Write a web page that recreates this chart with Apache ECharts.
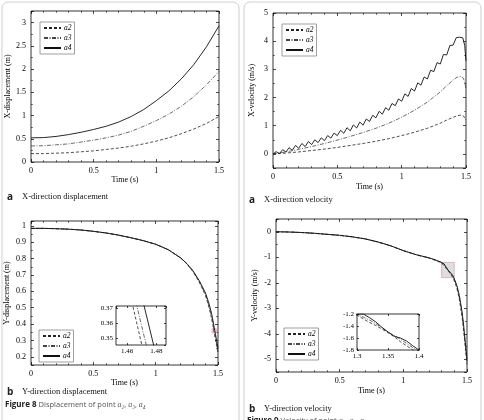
<!DOCTYPE html>
<html>
<head>
<meta charset="utf-8">
<script src="https://cdn.jsdelivr.net/npm/echarts@6/dist/echarts.min.js"></script>
<style>html,body{margin:0;padding:0;background:#fff}#chart{width:484px;height:420px}</style>
</head>
<body>
<div id="chart"></div>
<script>
// Fig 8a - X displacement
const tXDisp = [0, 0.1, 0.2, 0.3, 0.4, 0.5, 0.6, 0.7, 0.8, 0.9, 1.0, 1.1, 1.2, 1.3, 1.4, 1.5]
const xDispA2 = [0.18, 0.18, 0.19, 0.2, 0.22, 0.24, 0.27, 0.3, 0.34, 0.39, 0.45, 0.52, 0.61, 0.71, 0.83, 0.98]
const xDispA3 = [0.345, 0.35, 0.37, 0.39, 0.43, 0.47, 0.52, 0.58, 0.66, 0.77, 0.89, 1.03, 1.2, 1.41, 1.66, 1.95]
const xDispA4 = [0.52, 0.525, 0.55, 0.59, 0.64, 0.7, 0.77, 0.86, 0.98, 1.13, 1.32, 1.53, 1.79, 2.1, 2.48, 2.93]

// Fig 9a - X velocity (a4 sampled finer because of the ripple)
const tXVel = [0, 0.1, 0.2, 0.3, 0.4, 0.5, 0.6, 0.7, 0.8, 0.9, 1.0, 1.1, 1.2, 1.3, 1.35, 1.4, 1.43, 1.46, 1.48, 1.49, 1.5]
const xVelA2 = [0, 0.03, 0.07, 0.12, 0.17, 0.23, 0.3, 0.37, 0.45, 0.54, 0.65, 0.77, 0.91, 1.09, 1.2, 1.3, 1.35, 1.38, 1.35, 1.3, 1.2]
const xVelA3 = [0, 0.07, 0.16, 0.26, 0.37, 0.49, 0.62, 0.76, 0.91, 1.09, 1.3, 1.55, 1.84, 2.2, 2.42, 2.62, 2.72, 2.75, 2.68, 2.55, 2.3]
const tXVelA4 = [0, 0.025, 0.05, 0.075, 0.1, 0.125, 0.15, 0.175, 0.2, 0.225, 0.25, 0.275, 0.3, 0.325, 0.35, 0.375,
  0.4, 0.425, 0.45, 0.475, 0.5, 0.525, 0.55, 0.575, 0.6, 0.625, 0.65, 0.675, 0.7, 0.725, 0.75, 0.775,
  0.8, 0.825, 0.85, 0.875, 0.9, 0.925, 0.95, 0.975, 1.0, 1.025, 1.05, 1.075, 1.1, 1.125, 1.15, 1.175,
  1.2, 1.225, 1.25, 1.275, 1.3, 1.325, 1.35, 1.375, 1.4, 1.425, 1.45, 1.475, 1.49, 1.5]
const xVelA4 = [0, 0.08, 0.01, 0.15, 0.07, 0.22, 0.13, 0.3, 0.2, 0.37, 0.26, 0.44, 0.33, 0.5, 0.4, 0.57,
  0.47, 0.65, 0.56, 0.74, 0.65, 0.84, 0.73, 0.93, 0.82, 1.03, 0.92, 1.13, 1.02, 1.24, 1.15, 1.37,
  1.28, 1.51, 1.41, 1.64, 1.55, 1.79, 1.71, 1.95, 1.87, 2.13, 2.04, 2.32, 2.23, 2.52, 2.44, 2.73,
  2.66, 2.97, 2.92, 3.24, 3.19, 3.53, 3.51, 3.85, 3.86, 4.13, 4.14, 4.12, 3.85, 3.3]

// Fig 8b - Y displacement
const tYDisp = [0, 0.1, 0.2, 0.3, 0.4, 0.5, 0.6, 0.7, 0.8, 0.9, 1.0, 1.1, 1.2, 1.25, 1.3, 1.35, 1.4, 1.43, 1.45, 1.47, 1.48, 1.49, 1.5]
const yDispA2 = [0.985, 0.985, 0.983, 0.98, 0.975, 0.967, 0.957, 0.944, 0.928, 0.91, 0.888, 0.855, 0.804, 0.768, 0.72, 0.655, 0.575, 0.495, 0.43, 0.346, 0.306, 0.263, 0.22]
const yDispA3 = [0.985, 0.985, 0.983, 0.98, 0.975, 0.967, 0.957, 0.944, 0.928, 0.91, 0.888, 0.855, 0.805, 0.769, 0.723, 0.66, 0.58, 0.505, 0.44, 0.358, 0.318, 0.275, 0.23]
const yDispA4 = [0.985, 0.985, 0.983, 0.98, 0.975, 0.967, 0.957, 0.944, 0.928, 0.91, 0.888, 0.855, 0.805, 0.77, 0.725, 0.665, 0.59, 0.52, 0.46, 0.378, 0.338, 0.295, 0.25]

// Fig 9b - Y velocity
const tYVel = [0, 0.1, 0.2, 0.3, 0.4, 0.5, 0.6, 0.7, 0.8, 0.9, 1.0, 1.1, 1.2, 1.25,
  1.3, 1.31, 1.32, 1.33, 1.34, 1.35, 1.36, 1.37, 1.38, 1.39, 1.4, 1.42, 1.44, 1.46, 1.47, 1.48, 1.49, 1.5]
const yVelA2 = [0, -0.01, -0.03, -0.06, -0.1, -0.14, -0.2, -0.28, -0.4, -0.55, -0.74, -0.9, -1.03, -1.12,
  -1.22, -1.28, -1.34, -1.39, -1.45, -1.51, -1.58, -1.66, -1.73, -1.8, -1.86, -2.2, -2.65, -3.3, -3.7, -4.2, -4.7, -5.2]
const yVelA3 = [0, -0.01, -0.03, -0.06, -0.1, -0.14, -0.2, -0.28, -0.4, -0.55, -0.74, -0.9, -1.02, -1.11,
  -1.21, -1.25, -1.3, -1.36, -1.43, -1.5, -1.56, -1.62, -1.69, -1.76, -1.83, -2.15, -2.58, -3.2, -3.6, -4.1, -4.6, -5.1]
const yVelA4 = [0, -0.01, -0.03, -0.06, -0.1, -0.14, -0.2, -0.28, -0.4, -0.55, -0.74, -0.9, -1.02, -1.1,
  -1.2, -1.2, -1.26, -1.33, -1.42, -1.5, -1.57, -1.6, -1.65, -1.73, -1.8, -2.1, -2.5, -3.1, -3.5, -4.0, -4.5, -5.0]

const names = ['a2', 'a3', 'a4']
const serif = 'Liberation Serif'
const sans = 'Open Sans'

const lineStyles = {
  a2: { type: [3, 2], width: 0.8, color: '#222' },
  a3: { type: [4, 1.5, 1, 1.5], width: 0.8, color: '#444' },
  a4: { type: 'solid', width: 0.9, color: '#111' }
}

const pairs = (t, v) => t.map((x, i) => [x, v[i]])

const grids = []
const xAxes = []
const yAxes = []
const series = []

function makeAxis(gi, pos, scale, labels, small, name, nameGap) {
  const ax = Object.assign({
    gridIndex: gi,
    type: 'value',
    position: pos,
    axisLine: { show: false, onZero: false },
    splitLine: { show: false },
    axisTick: { show: true, inside: true, length: small ? 2 : 3, lineStyle: { color: '#000', width: 0.7 }},
    minorTick: { show: !!scale.minor, splitNumber: scale.minor || 1, length: small ? 1 : 1.8, lineStyle: { color: '#000', width: 0.6 }}
  }, scale.opts)
  ax.axisLabel = Object.assign({ show: labels, fontFamily: serif, fontSize: small ? 7 : 8, color: '#000', margin: small ? 3 : 5 },
    labels ? scale.label : {})
  if (name) {
    ax.name = name
    ax.nameLocation = 'middle'
    ax.nameGap = nameGap
    ax.nameTextStyle = { fontFamily: serif, fontSize: 8, color: '#000' }
  }
  return ax
}

function addPanel(box, xs, ys, small, xName, yName, gaps) {
  const gi = grids.length
  grids.push({ left: box[0], top: box[1], width: box[2], height: box[3], show: true,
    borderColor: '#000', borderWidth: 0.8, backgroundColor: '#fff' })
  xAxes.push(makeAxis(gi, 'bottom', xs, true, small, xName, gaps && gaps[0]))
  xAxes.push(makeAxis(gi, 'top', xs, false, small))
  yAxes.push(makeAxis(gi, 'left', ys, true, small, yName, gaps && gaps[1]))
  yAxes.push(makeAxis(gi, 'right', ys, false, small))
  return { x: xAxes.length - 2, y: yAxes.length - 2 }
}

function addLines(ax, data, extra) {
  names.forEach((n, i) => {
    const s = {
      type: 'line', name: n, xAxisIndex: ax.x, yAxisIndex: ax.y,
      data: data[i], symbol: 'none', showSymbol: false, clip: true,
      lineStyle: lineStyles[n], itemStyle: { color: lineStyles[n].color },
      silent: true, z: 3
    }
    if (extra && i === 2) Object.assign(s, extra)
    series.push(s)
  })
}

const timeX = { minor: 5, opts: { min: 0, max: 1.5, interval: 0.5 }}

// panel 8a
const pA = addPanel([31, 11, 188, 151], timeX,
  { minor: 2, opts: { min: 0, max: 3.25, interval: 0.5 }, label: { showMaxLabel: false }},
  false, 'Time (s)', 'X-displacement (m)', [14, 17])
addLines(pA, [pairs(tXDisp, xDispA2), pairs(tXDisp, xDispA3), pairs(tXDisp, xDispA4)])

// panel 9a
const pB = addPanel([273, 13, 193, 155], timeX,
  { minor: 2, opts: { min: -0.5, max: 5, splitNumber: 5 }, label: { showMinLabel: false }},
  false, 'Time (s)', 'X-velocity (m/s)', [15, 17])
addLines(pB, [pairs(tXVel, xVelA2), pairs(tXVel, xVelA3), pairs(tXVelA4, xVelA4)])

// panel 8b
const insetC = { x: [1.4525, 1.4865], y: [0.3457, 0.3715] }
const pC = addPanel([31, 221, 187, 144], timeX,
  { minor: 2, opts: { min: 0.15, max: 1.03, splitNumber: 9 }, label: { showMinLabel: false, showMaxLabel: false }},
  false, 'Time (s)', 'Y-displacement (m)', [12, 20])
addLines(pC, [pairs(tYDisp, yDispA2), pairs(tYDisp, yDispA3), pairs(tYDisp, yDispA4)], {
  markArea: { silent: true, itemStyle: { color: 'rgba(230,170,180,0.25)', borderColor: '#e8a0aa', borderWidth: 0.8 },
    data: [[{ coord: [insetC.x[0], insetC.y[0]] }, { coord: [insetC.x[1], insetC.y[1]] }]] }
})

// panel 9b
const insetD = { x: [1.3, 1.4], y: [-1.8, -1.2] }
const pD = addPanel([276, 219, 191, 153], timeX,
  { minor: 2, opts: { min: -5.5, max: 0.5, splitNumber: 6 }, label: { showMinLabel: false, showMaxLabel: false }},
  false, 'Time (s)', 'Y-velocity (m/s)', [15, 17])
addLines(pD, [pairs(tYVel, yVelA2), pairs(tYVel, yVelA3), pairs(tYVel, yVelA4)], {
  markArea: { silent: true, itemStyle: { color: 'rgba(200,200,200,0.6)', borderColor: '#e0a8b0', borderWidth: 0.8 },
    data: [[{ coord: [insetD.x[0], insetD.y[0]] }, { coord: [insetD.x[1], insetD.y[1]] }]] }
})

// insets
const iC = addPanel([116, 306, 50, 39],
  { opts: { min: insetC.x[0], max: insetC.x[1], splitNumber: 2 }, label: { showMinLabel: false, showMaxLabel: false }},
  { opts: { min: insetC.y[0], max: insetC.y[1], splitNumber: 3 }, label: { showMinLabel: false, showMaxLabel: false }},
  true)
addLines(iC, [pairs(tYDisp, yDispA2), pairs(tYDisp, yDispA3), pairs(tYDisp, yDispA4)])

const iD = addPanel([357, 314, 62, 36],
  { opts: { min: insetD.x[0], max: insetD.x[1], interval: 0.05 }},
  { opts: { min: insetD.y[0], max: insetD.y[1], interval: 0.2 }},
  true)
addLines(iD, [pairs(tYVel, yVelA2), pairs(tYVel, yVelA3), pairs(tYVel, yVelA4)])

function legendAt(left, top) {
  return {
    data: names, left: left, top: top, orient: 'vertical', selectedMode: false,
    itemWidth: 17, itemHeight: 6, itemGap: 2, padding: [2, 3, 2, 3],
    borderColor: '#777', borderWidth: 0.7, backgroundColor: '#fff',
    itemStyle: { opacity: 0 },
    textStyle: { fontFamily: serif, fontStyle: 'italic', fontSize: 7.5, color: '#000', padding: [0, 0, 0, -2] }
  }
}

function caption(x, y, letter, text) {
  return [
    { type: 'text', x: x, y: y, style: { text: letter, fontFamily: sans, fontWeight: 'bold', fontSize: 10, fill: '#222', verticalAlign: 'middle' }},
    { type: 'text', x: x + 15, y: y, style: { text: text, fontFamily: serif, fontSize: 8.5, fill: '#111', verticalAlign: 'middle' }}
  ]
}

function figCaption(x, y, num, text) {
  return {
    type: 'text', x: x, y: y,
    style: {
      text: '{b|Figure ' + num + '} ' + text + ' {i|a₂}, {i|a₃}, {i|a₄}',
      fontFamily: sans, fontSize: 7.5, fill: '#555', verticalAlign: 'middle',
      rich: {
        b: { fontFamily: sans, fontWeight: 'bold', fontSize: 8, fill: '#222', color: '#222' },
        i: { fontFamily: serif, fontStyle: 'italic', fontSize: 8, fill: '#555', color: '#555' }
      }
    }
  }
}

const chart = echarts.init(document.getElementById('chart'), null, { renderer: 'canvas' })
chart.setOption({
  animation: false,
  backgroundColor: '#fff',
  grid: grids,
  xAxis: xAxes,
  yAxis: yAxes,
  legend: [legendAt(40, 22), legendAt(282, 24), legendAt(39, 330), legendAt(284, 328)],
  series: series,
  graphic: [
    { type: 'rect', shape: { x: 2, y: 2, width: 237, height: 440, r: 6 }, style: { fill: 'none', stroke: '#cfcfcf', lineWidth: 1 }, z: -10 },
    { type: 'rect', shape: { x: 244, y: 2, width: 237, height: 440, r: 6 }, style: { fill: 'none', stroke: '#cfcfcf', lineWidth: 1 }, z: -10 }
  ].concat(
    caption(7, 197, 'a', 'X-direction displacement'),
    caption(249, 200, 'a', 'X-direction velocity'),
    caption(7, 392, 'b', 'Y-direction displacement'),
    caption(249, 409, 'b', 'Y-direction velocity'),
    [figCaption(5, 405, 8, 'Displacement of point'), figCaption(247, 421, 9, 'Velocity of point')]
  )
})
</script>
</body>
</html>
